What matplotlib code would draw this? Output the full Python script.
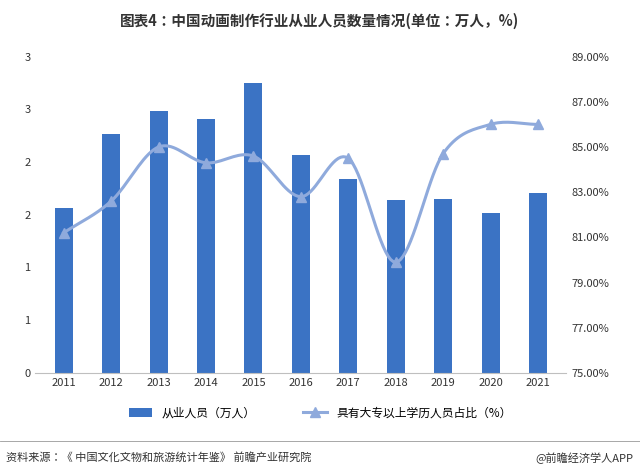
import matplotlib.pyplot as plt
import numpy as np
from matplotlib import font_manager
from matplotlib.lines import Line2D
from matplotlib.ticker import FuncFormatter

cjk = [f.name for f in font_manager.fontManager.ttflist if "CJK" in f.name]
plt.rcParams["font.family"] = "sans-serif"
plt.rcParams["font.sans-serif"] = (["Noto Sans CJK SC", "Noto Sans CJK JP"] + cjk
                                   + ["DejaVu Sans"])

years = ["2011", "2012", "2013", "2014", "2015", "2016", "2017", "2018", "2019", "2020", "2021"]
staff = [1.56, 2.27, 2.48, 2.41, 2.75, 2.07, 1.84, 1.64, 1.65, 1.52, 1.71]
degree_pct = [81.2, 82.6, 85.0, 84.3, 84.6, 82.8, 84.5, 79.9, 84.7, 86.0, 86.0]

bar_color = "#3b73c4"
line_color = "#8faadc"


def catmull_rom(x, y, n=20):
    # smooth curve through the points, like Excel's smoothed line
    x = np.asarray(x, float)
    y = np.asarray(y, float)
    px = np.concatenate([[2 * x[0] - x[1]], x, [2 * x[-1] - x[-2]]])
    py = np.concatenate([[2 * y[0] - y[1]], y, [2 * y[-1] - y[-2]]])
    xs, ys = [], []
    for i in range(1, len(px) - 2):
        t = np.linspace(0, 1, n)
        for p, out in ((px, xs), (py, ys)):
            p0, p1, p2, p3 = p[i - 1], p[i], p[i + 1], p[i + 2]
            out.extend(0.5 * (2 * p1 + (-p0 + p2) * t
                              + (2 * p0 - 5 * p1 + 4 * p2 - p3) * t ** 2
                              + (-p0 + 3 * p1 - 3 * p2 + p3) * t ** 3))
    return np.array(xs), np.array(ys)


fig = plt.figure(figsize=(6.4, 4.72), dpi=100)
ax = fig.add_axes([0.055, 0.21, 0.83, 0.67])
ax2 = ax.twinx()

x = np.arange(len(years))
ax.bar(x, staff, width=0.38, color=bar_color, label="从业人员（万人）", zorder=2)
ax.set_ylim(0, 3)
ax.set_yticks(np.arange(0, 3.01, 0.5))
ax.yaxis.set_major_formatter(FuncFormatter(lambda v, _: f"{int(np.floor(v + 0.5))}"))
ax.set_xticks(x)
ax.set_xticklabels(years)
ax.set_xlim(-0.6, len(years) - 0.4)

sx, sy = catmull_rom(x, degree_pct)
ax2.plot(sx, sy, color=line_color, lw=2.2, zorder=3)
ax2.plot(x, degree_pct, color=line_color, marker="^", ms=7, lw=0)
ax2.set_ylim(75, 89)
ax2.set_yticks(np.arange(75, 89.1, 2))
ax2.yaxis.set_major_formatter(FuncFormatter(lambda v, _: f"{v:.2f}%"))

for a in (ax, ax2):
    for s in a.spines.values():
        s.set_visible(False)
    a.tick_params(length=0, labelsize=8, colors="#333333")
ax.spines["bottom"].set_visible(True)
ax.spines["bottom"].set_color("#bfbfbf")

h1, l1 = ax.get_legend_handles_labels()
h2 = [Line2D([], [], color=line_color, marker="^", lw=2.2, ms=7)]
l2 = ["具有大专以上学历人员占比（%）"]
fig.legend(h1 + h2, l1 + l2, loc="center", bbox_to_anchor=(0.5, 0.125), ncol=2,
           frameon=False, fontsize=8.5, columnspacing=4)

fig.text(0.5, 0.955, "图表4：中国动画制作行业从业人员数量情况(单位：万人，%)",
         ha="center", va="center", fontsize=10.5, fontweight="bold", color="#333333")
fig.add_artist(Line2D([0.0, 1.0], [0.065, 0.065], color="#999999", lw=0.6,
                      transform=fig.transFigure))
fig.text(0.01, 0.03, "资料来源：《 中国文化文物和旅游统计年鉴》 前瞻产业研究院",
         fontsize=8, va="center", color="#333333")
fig.text(0.99, 0.03, "@前瞻经济学人APP", fontsize=8, va="center", ha="right",
         color="#333333")

fig.savefig("out.png", dpi=100)
